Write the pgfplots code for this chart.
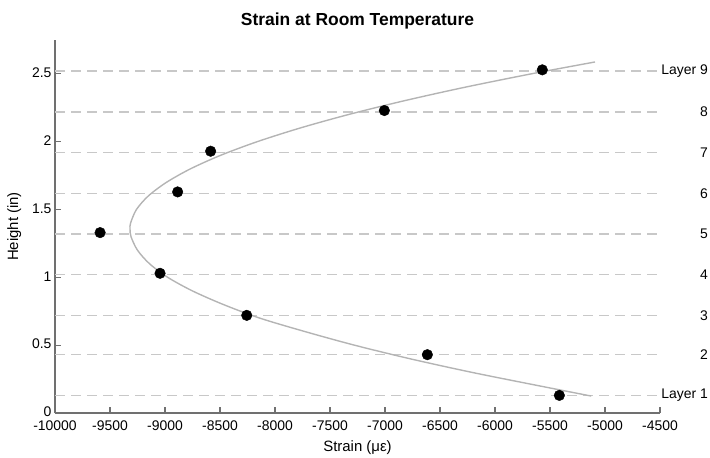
\documentclass[border=0pt]{standalone}
\usepackage{fontspec}
\setmainfont{Liberation Sans}
\usepackage{pgfplots}
\pgfplotsset{compat=1.18}
\definecolor{axgray}{HTML}{707070}
\definecolor{dashgray}{HTML}{C8C8C8}
\definecolor{fitgray}{HTML}{B4B4B4}

\begin{document}
\begin{tikzpicture}
\begin{axis}[
  scale only axis,
  width=605bp, height=373bp,
  xmin=-10000, xmax=-4500,
  ymin=0, ymax=2.75,
  axis x line=bottom, axis y line=left,
  axis line style={-, draw=axgray, line width=1.4pt},
  tick style={draw=axgray, line width=1.1pt},
  tick align=inside,
  major tick length=6bp,
  xtick={-10000,-9500,...,-4500},
  ytick={0,0.5,1,1.5,2,2.5},
  scaled x ticks=false,
  /pgf/number format/1000 sep={},
  /pgf/number format/assume math mode=true,
  tick label style={font=\fontsize{14}{16}\selectfont},
  xticklabel style={yshift=-4bp},
  yticklabel style={yshift=1bp},
  label style={font=\fontsize{15}{17}\selectfont},
  xlabel={Strain (με)},
  ylabel={Height (in)},
  xlabel style={yshift=-3bp},
  ylabel style={yshift=4bp},
  title={Strain at Room Temperature},
  title style={font=\bfseries\fontsize{17.5}{20}\selectfont, at={(0.5,1)}, anchor=base, yshift=9bp},
  clip=false,
]
% layer lines
\addplot[dashgray, line width=1.4pt, dash pattern=on 10bp off 6bp] coordinates {(-10000,0.13) (-4500,0.13)};
\addplot[dashgray, line width=1.4pt, dash pattern=on 10bp off 6bp] coordinates {(-10000,0.43) (-4500,0.43)};
\addplot[dashgray, line width=1.4pt, dash pattern=on 10bp off 6bp] coordinates {(-10000,0.72) (-4500,0.72)};
\addplot[dashgray, line width=1.4pt, dash pattern=on 10bp off 6bp] coordinates {(-10000,1.02) (-4500,1.02)};
\addplot[dashgray, line width=1.4pt, dash pattern=on 10bp off 6bp] coordinates {(-10000,1.32) (-4500,1.32)};
\addplot[dashgray, line width=1.4pt, dash pattern=on 10bp off 6bp] coordinates {(-10000,1.62) (-4500,1.62)};
\addplot[dashgray, line width=1.4pt, dash pattern=on 10bp off 6bp] coordinates {(-10000,1.92) (-4500,1.92)};
\addplot[dashgray, line width=1.4pt, dash pattern=on 10bp off 6bp] coordinates {(-10000,2.22) (-4500,2.22)};
\addplot[dashgray, line width=1.4pt, dash pattern=on 10bp off 6bp] coordinates {(-10000,2.52) (-4500,2.52)};

% fitted curve
\addplot[fitgray, line width=1.4pt, smooth] coordinates {
  (-5125,0.125) (-5596,0.2) (-6212,0.3) (-6773,0.4) (-7277,0.5)
  (-7726,0.6) (-8140,0.7) (-8470,0.8) (-8750,0.9) (-8975,1.0)
  (-9140,1.1) (-9250,1.2) (-9309,1.3) (-9318,1.356) (-9313,1.4)
  (-9260,1.5) (-9152,1.6) (-8988,1.7) (-8769,1.8) (-8494,1.9)
  (-8163,2.0) (-7776,2.1) (-7334,2.2) (-6836,2.3) (-6283,2.4)
  (-5673,2.5) (-5091,2.588)
};

% measured strains
\addplot[only marks, mark=*, mark size=5.3bp, black] coordinates {
  (-5415,0.13) (-6615,0.43) (-8257,0.72) (-9045,1.03) (-9590,1.33)
  (-8885,1.63) (-8585,1.93) (-7006,2.23) (-5570,2.53)
};

% layer labels
\foreach \y/\t in {0.13/Layer 1,0.43/2,0.72/3,1.02/4,1.32/5,1.62/6,1.92/7,2.22/8,2.52/Layer 9}{
  \edef\tmp{\noexpand\node[anchor=east, font=\noexpand\fontsize{14}{16}\noexpand\selectfont, inner sep=0pt]
    at ([xshift=48bp]axis cs:-4500,\y) {\t};}
  \tmp
}

% page frame
\path ([xshift=-55bp,yshift=-40bp]rel axis cs:0,0) rectangle ([xshift=50bp,yshift=40bp]rel axis cs:1,1);
\end{axis}
\end{tikzpicture}
\end{document}
